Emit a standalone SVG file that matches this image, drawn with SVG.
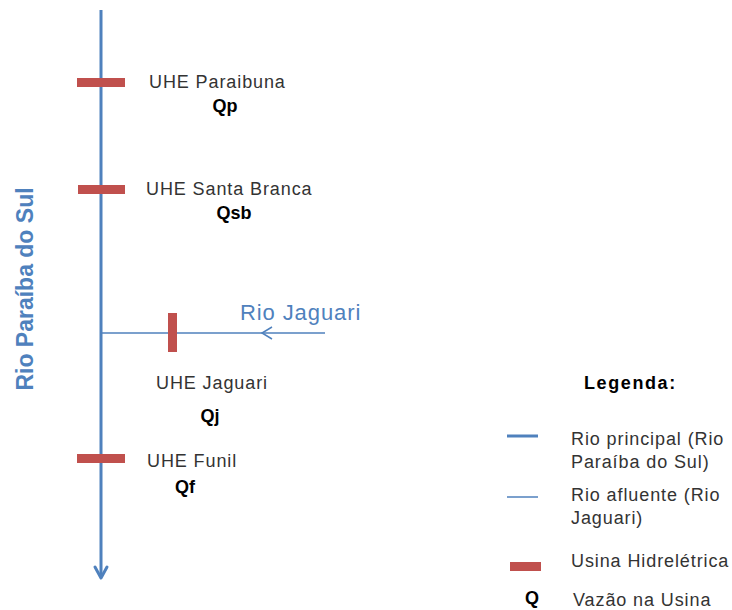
<svg xmlns="http://www.w3.org/2000/svg" width="732" height="610" viewBox="0 0 732 610">
<style>
text{font-family:"Liberation Sans",Arial,sans-serif;fill:#333}
.t{font-size:18px;letter-spacing:0.9px}
.b{font-size:18px;font-weight:bold;fill:#000}
.bar{fill:#C0504D}
.main{stroke:#4F81BD;stroke-width:3;fill:none}
.trib{stroke:#4F81BD;stroke-width:1.5;fill:none}
</style>
<rect width="732" height="610" fill="#fff"/>
<g id="connectors">
<line class="main" x1="101" y1="10" x2="101" y2="577"/>
<polyline class="main" points="95,567 101,578 107,567" stroke-linejoin="round" stroke-linecap="round"/>
<line class="trib" x1="101" y1="333" x2="325" y2="333"/>
<polyline class="trib" points="272,327 262,333 272,339"/>
</g>
<g id="rio-paraiba-label">
<text transform="translate(33,289) rotate(-90)" text-anchor="middle" style="font-size:23px;font-weight:bold;fill:#4F81BD">Rio Paraíba do Sul</text>
</g>
<g id="rio-jaguari-label">
<text x="240" y="320" style="font-size:22px;letter-spacing:0.9px;fill:#4F81BD">Rio Jaguari</text>
</g>
<g id="uhe-paraibuna">
<rect class="bar" x="77" y="78" width="48" height="9"/>
<text class="t" x="149" y="88">UHE Paraibuna</text>
<text class="b" x="225" y="112" text-anchor="middle">Qp</text>
</g>
<g id="uhe-santa-branca">
<rect class="bar" x="78" y="185" width="47" height="9"/>
<text class="t" x="146" y="195">UHE Santa Branca</text>
<text class="b" x="234" y="219" text-anchor="middle">Qsb</text>
</g>
<g id="uhe-jaguari">
<rect class="bar" x="168" y="313" width="9" height="39"/>
<text class="t" x="156" y="389">UHE Jaguari</text>
<text class="b" x="210" y="422" text-anchor="middle">Qj</text>
</g>
<g id="uhe-funil">
<rect class="bar" x="77" y="454" width="48" height="9"/>
<text class="t" x="147" y="467">UHE Funil</text>
<text class="b" x="185" y="493" text-anchor="middle">Qf</text>
</g>
<g id="legend">
<text x="584" y="389" style="font-size:18px;letter-spacing:1.6px;font-weight:bold;fill:#000">Legenda:</text>
<line class="main" x1="507" y1="436" x2="538" y2="436"/>
<text class="t" x="571" y="445">Rio principal (Rio</text>
<text class="t" x="571" y="468">Paraíba do Sul)</text>
<line class="trib" x1="507" y1="497" x2="538" y2="497"/>
<text class="t" x="571" y="501">Rio afluente (Rio</text>
<text class="t" x="571" y="524">Jaguari)</text>
<rect class="bar" x="510" y="562" width="31" height="9"/>
<text class="t" x="571" y="567">Usina Hidrelétrica</text>
<text x="532" y="604" text-anchor="middle" style="font-size:18px;font-weight:bold;fill:#000">Q</text>
<text class="t" x="573" y="606">Vazão na Usina</text>
</g>
</svg>
